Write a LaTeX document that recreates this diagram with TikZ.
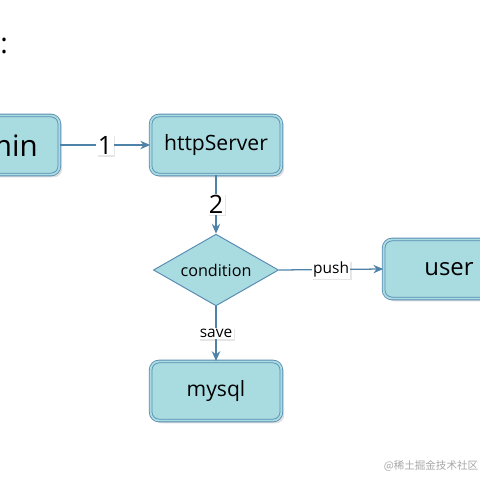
\documentclass[tikz,border=0pt]{standalone}
\usepackage{fontspec}
\setmainfont{Open Sans}
\newfontfamily\cjk{Noto Sans CJK SC}
\usepackage{tikz}
\usetikzlibrary{arrows.meta,shapes.geometric,shadows}
\definecolor{boxfill}{HTML}{A9DCE1}
\definecolor{boxline}{HTML}{5A8CB4}
\definecolor{flow}{HTML}{4F82A8}

\begin{document}
\begin{tikzpicture}[x=0.025cm,y=-0.025cm,
  box/.style={draw=boxline,double=boxfill,double distance=1.3pt,line width=0.6pt,
    fill=boxfill,rounded corners=6pt,minimum width=93pt,minimum height=42pt,
    font=\fontsize{15}{18}\selectfont,drop shadow={opacity=0.25,shadow xshift=2pt,shadow yshift=-2pt}},
  cond/.style={diamond,draw=boxline,line width=0.7pt,fill=boxfill,aspect=1.75,
    minimum width=89pt,minimum height=51pt,inner sep=0pt,font=\fontsize{11.5}{14}\selectfont},
  flowline/.style={draw=flow,line width=0.9pt,-{Stealth[length=7pt,width=6pt]}},
  lbl/.style={fill=white,inner sep=1pt,text=black,
    drop shadow={opacity=0.2,shadow xshift=1pt,shadow yshift=-1pt}}]
\useasboundingbox (0,0) rectangle (480,480);
\clip (0,0) rectangle (480,480);
\node[font=\fontsize{20}{24}\selectfont] (colon) at (4,46) {:};
% boxes
\node[box,font=\fontsize{21}{24}\selectfont] (admin) at (-6,145) {admin};
\node[box] (http) at (216,145) {httpServer};
\node[cond] (condition) at (216,270) {condition};
\node[box,font=\fontsize{17}{20}\selectfont] (user) at (449,269) {user};
\node[box] (mysql) at (216,391) {mysql};
% flows
\draw[flowline] (admin.east) -- node[lbl,font=\fontsize{18}{20}\selectfont]{1} (http.west);
\draw[flowline] (http.south) -- node[lbl,font=\fontsize{18}{20}\selectfont]{2} (condition.north);
\draw[flowline] (condition.east) -- node[lbl,font=\fontsize{11}{13}\selectfont]{push} (user.west);
\draw[flowline] (condition.south) -- node[lbl,font=\fontsize{11}{13}\selectfont]{save} (mysql.north);
\node[text=gray!70,font=\cjk\fontsize{7.5}{9}\selectfont] (mark) at (431,466) {@稀土掘金技术社区};
\end{tikzpicture}
\end{document}
